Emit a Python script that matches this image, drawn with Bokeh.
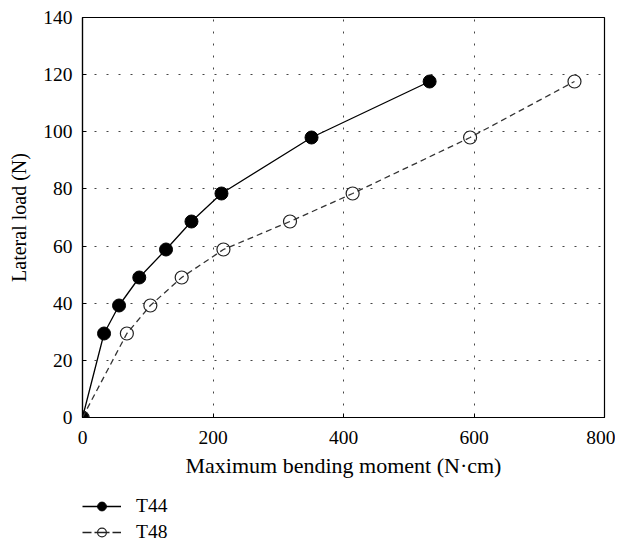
from bokeh.plotting import figure
from bokeh.layouts import column
from bokeh.models import Legend, LegendItem, Range1d, FixedTicker
from bokeh.embed import file_html
from bokeh.resources import INLINE

# Data
load_t44 = [0, 29.4, 39.2, 49.0, 58.8, 68.6, 78.4, 98.0, 117.6]
moment_t44 = [0, 33, 56, 87, 128, 167, 213, 351, 532]
load_t48 = [0, 29.4, 39.2, 49.0, 58.8, 68.6, 78.4, 98.0, 117.6]
moment_t48 = [0, 68, 104, 152, 216, 318, 414, 594, 754]
x_ticks = [0, 200, 400, 600, 800]
y_ticks = [0, 20, 40, 60, 80, 100, 120, 140]
series_names = ["T44", "T48"]

FONT = "Liberation Serif"
FS = "19.5px"

p = figure(width=615, height=480, output_backend="svg", toolbar_location=None,
           x_range=Range1d(0, 800), y_range=Range1d(0, 140),
           min_border_left=82, min_border_right=11, min_border_top=17, min_border_bottom=62)
p.background_fill_color = "white"
p.outline_line_color = "black"
p.outline_line_width = 1.2

for ax in (p.xaxis[0], p.yaxis[0]):
    ax.major_label_text_font = FONT
    ax.major_label_text_font_size = FS
    ax.major_label_text_color = "black"
    ax.axis_label_text_font = FONT
    ax.axis_label_text_font_style = "normal"
    ax.axis_label_text_color = "black"
    ax.axis_line_color = "black"
    ax.axis_line_width = 1.2
    ax.major_tick_in = 4
    ax.major_tick_out = 0
    ax.minor_tick_line_color = None
    ax.major_tick_line_color = "black"

p.xaxis[0].axis_label_text_font_size = "22px"
p.yaxis[0].axis_label_text_font_size = "20px"
p.xaxis[0].ticker = FixedTicker(ticks=x_ticks)
p.yaxis[0].ticker = FixedTicker(ticks=y_ticks)
p.xaxis[0].axis_label = "Maximum bending moment (N·cm)"
p.yaxis[0].axis_label = "Lateral load (N)"
p.xaxis[0].major_label_standoff = 13
p.yaxis[0].major_label_standoff = 10
p.xaxis[0].axis_label_standoff = 6
p.yaxis[0].axis_label_standoff = 10

p.xgrid.ticker = FixedTicker(ticks=[200, 400, 600])
p.ygrid.ticker = FixedTicker(ticks=[20, 40, 60, 80, 100, 120])
for g in (p.xgrid[0], p.ygrid[0]):
    g.grid_line_color = "#444444"
    g.grid_line_dash = "2 10"
    g.grid_line_width = 1

l44 = p.line(moment_t44, load_t44, line_color="black", line_width=1.3)
s44 = p.scatter(moment_t44, load_t44, size=13, fill_color="black", line_color="black")
l48 = p.line(moment_t48, load_t48, line_color="#333333", line_width=1.3, line_dash="6 4")
s48 = p.scatter(moment_t48, load_t48, size=13, fill_alpha=0, line_color="#222222", line_width=1.2)

# Legend figure below the chart (off-range sample points only feed the legend glyphs)
p2 = figure(width=615, height=63, output_backend="svg", toolbar_location=None,
            x_range=Range1d(0, 1), y_range=Range1d(0, 1),
            min_border_left=78, min_border_right=0, min_border_top=15, min_border_bottom=0)
p2.axis.visible = False
p2.grid.visible = False
p2.outline_line_color = None
d44l = p2.line([-5, -4], [-5, -4], line_color="black", line_width=1.3)
d44s = p2.scatter([-5], [-5], size=13, fill_color="black", line_color="black")
d48l = p2.line([-5, -4], [-5, -4], line_color="#222222", line_width=1.3, line_dash="9 3 15 3")
d48s = p2.scatter([-5], [-5], size=13, fill_alpha=0, line_color="#222222", line_width=1.2)

legend = Legend(items=[LegendItem(label=series_names[0], renderers=[d44l, d44s]),
                       LegendItem(label=series_names[1], renderers=[d48l, d48s])],
                location="top_left", orientation="vertical")
legend.label_text_font = FONT
legend.label_text_font_size = FS
legend.label_text_color = "black"
legend.border_line_color = None
legend.background_fill_alpha = 0
legend.glyph_width = 39
legend.glyph_height = 22
legend.label_height = 22
legend.spacing = 4
legend.padding = 0
legend.margin = 0
legend.label_standoff = 15
p2.add_layout(legend)

layout = column(p, p2, spacing=0)
open("out.html", "w").write(file_html(layout, INLINE))
